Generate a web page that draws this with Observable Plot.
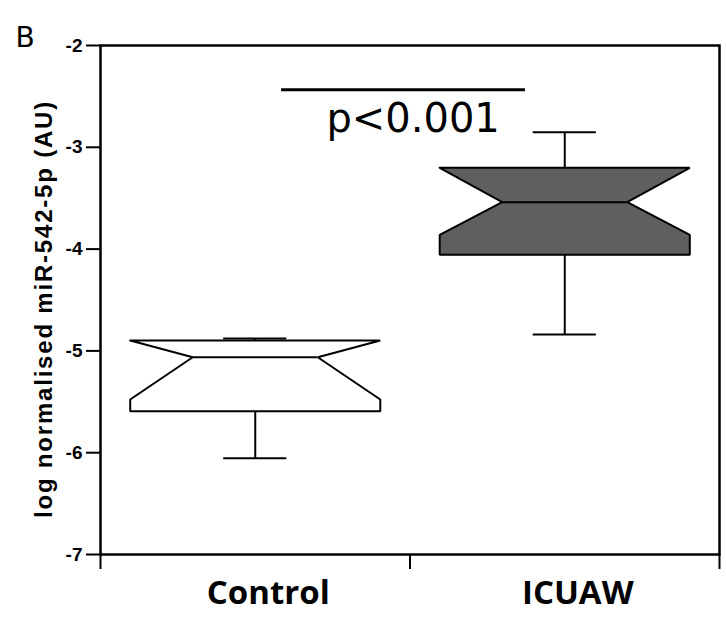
<!DOCTYPE html>
<html><head><meta charset="utf-8">
<script src="https://cdn.jsdelivr.net/npm/d3@7"></script>
<script src="https://cdn.jsdelivr.net/npm/@observablehq/plot@0.6"></script>
<style>body{margin:0;background:#fff}</style>
</head><body><div id="chart"></div>
<script>
// Data
const categories = ["Control", "ICUAW"];
const whiskerHi = [-4.878, -2.852];
const q3 = [-4.898, -3.201];
const notchHi = [-4.898, -3.201];
const median = [-5.062, -3.539];
const notchLo = [-5.477, -3.860];
const q1 = [-5.592, -4.056];
const whiskerLo = [-6.054, -4.839];
const boxFills = ["white", "#5f5f5f"];
const yTicks = [-7, -6, -5, -4, -3, -2];
const pText = "p<0.001";
const yLabel = "log normalised miR-542-5p (AU)";
const panelLetter = "B";

// layout constants (in band units)
const hw = 0.404, nw = 0.202, cw = 0.102;
const sig = {x1: 0.585, x2: 1.373, y: -2.435, tx: 1.01, ty: -2.852};

const rows = categories.map((c, i) => ({
  cat: c, c: i + 0.5, whiskerHi: whiskerHi[i], q3: q3[i], nhi: notchHi[i], med: median[i],
  nlo: notchLo[i], q1: q1[i], whiskerLo: whiskerLo[i], fill: boxFills[i]
}));

function polygon(r) {
  const c = r.c;
  return [[c-hw,r.q3],[c+hw,r.q3],[c+hw,r.nhi],[c+nw,r.med],[c+hw,r.nlo],[c+hw,r.q1],
          [c-hw,r.q1],[c-hw,r.nlo],[c-nw,r.med],[c-hw,r.nhi],[c-hw,r.q3]]
    .map(([x, y]) => ({x, y, cat: r.cat}));
}

const boxMarks = rows.map(r => Plot.line(polygon(r), {x: "x", y: "y", fill: r.fill, stroke: "black", strokeWidth: 2, strokeLinejoin: "miter"}));

const chart = Plot.plot({
  width: 726, height: 626,
  marginLeft: 100, marginRight: 7, marginTop: 45, marginBottom: 72,
  x: {domain: [0, 2]},
  y: {domain: [-7, -2]},
  style: {fontFamily: "'Liberation Sans', Arial, sans-serif", background: "white", color: "black"},
  marks: [
    Plot.ruleX(rows, {x: "c", y1: "q3", y2: "whiskerHi", stroke: "black", strokeWidth: 2}),
    Plot.ruleX(rows, {x: "c", y1: "q1", y2: "whiskerLo", stroke: "black", strokeWidth: 2}),
    ...boxMarks,
    Plot.ruleY(rows, {y: "med", x1: d => d.c - nw, x2: d => d.c + nw, stroke: "black", strokeWidth: 2}),
    Plot.ruleY(rows, {y: "whiskerHi", x1: d => d.c - cw, x2: d => d.c + cw, stroke: "black", strokeWidth: 2}),
    Plot.ruleY(rows, {y: "whiskerLo", x1: d => d.c - cw, x2: d => d.c + cw, stroke: "black", strokeWidth: 2}),
    Plot.ruleY([sig.y], {x1: sig.x1, x2: sig.x2, stroke: "black", strokeWidth: 3}),
    Plot.text([pText], {x: sig.tx, y: sig.ty, text: d => d, lineAnchor: "bottom", fontSize: 40, fontFamily: "'DejaVu Sans', sans-serif"}),
    Plot.frame({stroke: "black", strokeWidth: 2.5}),
    Plot.axisY({ticks: yTicks, tickSize: 14, tickPadding: 4, tickFormat: d => String(d), fontSize: 19, fontWeight: "bold", strokeWidth: 2, label: null}),
    Plot.axisX({ticks: [0, 1, 2], tickSize: 15, tickFormat: () => "", strokeWidth: 2, label: null}),
    Plot.axisX({ticks: [0.5, 1.5], tickSize: 0, tickPadding: 26, tickFormat: d => categories[Math.floor(d)], fontSize: 33, fontWeight: "bold", fontFamily: "'Open Sans', sans-serif", dx: 13, label: null}),
    Plot.text([yLabel], {frameAnchor: "left", textAnchor: "middle", rotate: -90, dx: -56, dy: 9, text: d => d, fontSize: 24, fontWeight: "bold"}),
    Plot.text([panelLetter], {frameAnchor: "top-left", dx: -85, dy: -18, lineAnchor: "top", textAnchor: "start", text: d => d, fontSize: 28, fontFamily: "'DejaVu Sans', sans-serif"})
  ]
});
d3.select(chart).selectAll("text").filter(function() { return this.textContent === yLabel; }).attr("letter-spacing", 1.8);
document.getElementById("chart").appendChild(chart);
</script>
</body></html>
